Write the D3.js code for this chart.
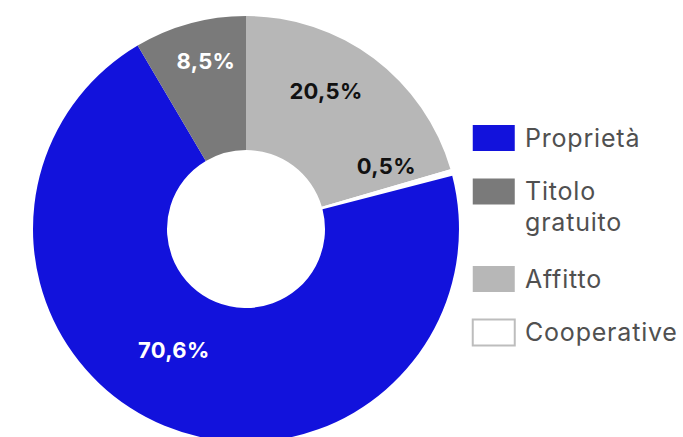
<!DOCTYPE html>
<html>
<head>
<meta charset="utf-8">
<script src="https://cdn.jsdelivr.net/npm/d3@7"></script>
<style>
  body { margin: 0; background: #fff; }
  svg text { font-family: Inter, "Noto Sans", sans-serif; }
</style>
</head>
<body>
<div id="chart"></div>
<script>
// data, clockwise from 12 o'clock
const categories = ["Affitto", "Cooperative", "Proprietà", "Titolo gratuito"];
const values = [20.5, 0.5, 70.6, 8.5];
const valueLabels = ["20,5%", "0,5%", "70,6%", "8,5%"];
const colors = ["#b7b7b7", "#ffffff", "#1212dc", "#7a7a7a"];
const labelColors = ["#111", "#111", "#fff", "#fff"];

// legend order and line breaks
const legendOrder = ["Proprietà", "Titolo gratuito", "Affitto", "Cooperative"];
const legendLines = [["Proprietà"], ["Titolo", "gratuito"], ["Affitto"], ["Cooperative"]];

const width = 683, height = 437;
const cx = 246, cy = 229;
const outerR = 213, innerR = 79;
// hand nudges for the value labels (same order as categories)
const labelNudge = [[-16, -10], [-14, -20], [-11, -27], [2, -13]];

const svg = d3.select("#chart")
    .append("svg")
    .attr("width", width)
    .attr("height", height);

const g = svg.append("g")
    .attr("transform", `translate(${cx},${cy})`);

const pie = d3.pie().sort(null).value(d => d);
const arcs = pie(values);

const arc = d3.arc()
    .innerRadius(innerR)
    .outerRadius(outerR);

const labelArc = d3.arc()
    .innerRadius(160)
    .outerRadius(160);

g.selectAll("path")
    .data(arcs)
    .enter().append("path")
    .attr("d", arc)
    .attr("fill", (d, i) => colors[i]);

g.selectAll("text.val")
    .data(arcs)
    .enter().append("text")
    .attr("class", "val")
    .attr("transform", (d, i) => {
        const c = labelArc.centroid(d);
        return `translate(${c[0] + labelNudge[i][0]},${c[1] + labelNudge[i][1]})`;
    })
    .attr("text-anchor", "middle")
    .attr("dy", "0.35em")
    .attr("font-size", 22)
    .attr("font-weight", 700)
    .attr("letter-spacing", 0.3)
    .attr("fill", (d, i) => labelColors[i])
    .text((d, i) => valueLabels[i]);

// legend
const legendX = 472, swW = 42, swH = 26, rowGap = 53.5, lineH = 31;
const legend = svg.append("g");
let y = 138;
legendOrder.forEach((name, k) => {
    const i = categories.indexOf(name);
    const row = legend.append("g").attr("transform", `translate(${legendX},${y})`);
    row.append("rect")
        .attr("x", 0.75)
        .attr("y", -swH / 2)
        .attr("width", swW)
        .attr("height", swH)
        .attr("fill", colors[i])
        .attr("stroke", name === "Cooperative" ? "#bdbdbd" : "none")
        .attr("stroke-width", 2);
    row.append("text")
        .attr("x", 53)
        .attr("y", 8.5)
        .attr("font-size", 25)
        .attr("letter-spacing", 0.8)
        .attr("fill", "#505050")
        .selectAll("tspan")
        .data(legendLines[k])
        .enter().append("tspan")
        .attr("x", 53)
        .attr("dy", (d, j) => j === 0 ? 0 : lineH)
        .text(d => d);
    y += rowGap + (legendLines[k].length - 1) * (lineH + 3);
});
</script>
</body>
</html>
